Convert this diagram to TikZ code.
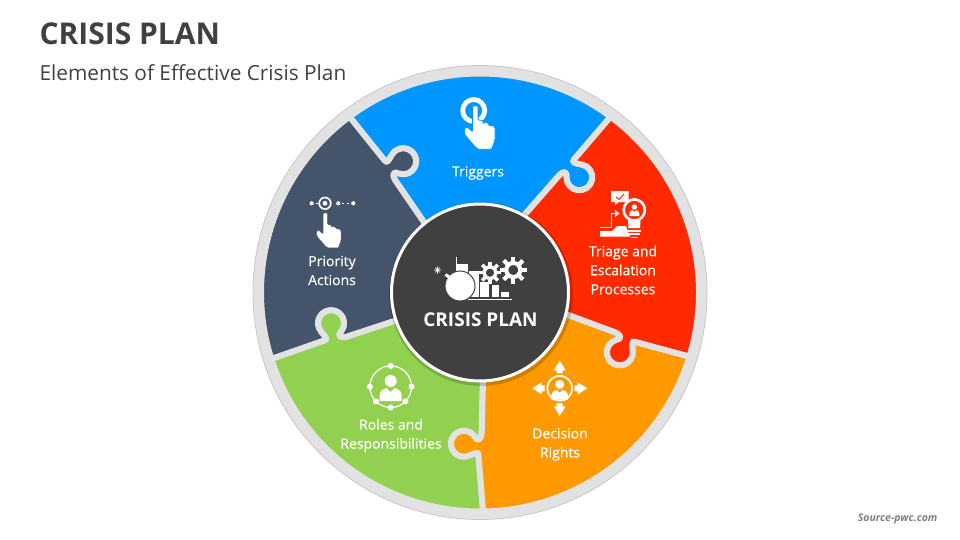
\documentclass[tikz,border=0pt]{standalone}
\usepackage{fontspec}
\setmainfont{Open Sans}
\newfontfamily\labelfont[FakeBold=0.35]{Open Sans}
\definecolor{cblue}{HTML}{0096FF}
\definecolor{cred}{HTML}{FF2A00}
\definecolor{corange}{HTML}{FF9900}
\definecolor{cgreen}{HTML}{92D050}
\definecolor{cdark}{HTML}{44546A}
\definecolor{chub}{HTML}{404040}
\definecolor{cring}{HTML}{E2E2E2}
% seam between two pieces: #1 turn of the knob, #2 angle at the hub, #3 angle at the rim
\newcommand{\seamout}[3]{
    -- (#2:87) {[rotate=#1] -- (79,117) .. controls (85,123) and (87,120) .. (86.3,115.2)
    arc[start angle=180,end angle=440,radius=13]
    .. controls (97,129) and (91,129.5) .. (94,133)} -- (#3:219)}
\newcommand{\seamback}[3]{
    {[rotate=#1] -- (94,133) .. controls (91,129.5) and (97,129) .. (101.6,128)
    arc[start angle=80,end angle=-180,radius=13]
    .. controls (87,120) and (85,123) .. (79,117)} -- (#2:87)}
% finger up, origin at the fingertip
\newcommand{\handpath}{
    (-2.8,2) -- (-2.8,25.7) -- (-8.7,20.7) -- (-11.3,23.3) -- (-10.3,29) -- (-.3,40.7)
    -- (3,43.3) -- (16.3,43.3) -- (19.7,34) -- (19.7,21.3) -- (16.8,19) -- (14,20)
    -- (13,17) -- (10,16.5) -- (8.5,17) -- (7,14.5) -- (2.8,14) -- (2.8,2)
    .. controls (2.8,-1) and (-2.8,-1) .. (-2.8,2) -- cycle}
% origin at the centre of the head
\newcommand{\personshape}{
    (0,0) circle[radius=6]
    (-11,20) -- (-11,14) .. controls (-11,10) and (-7,8) .. (-4,7) -- (0,11) -- (4,7)
    .. controls (7,8) and (11,10) .. (11,14) -- (11,20) -- cycle}
% #1 centre, #2 radius, #3 colour of the hole
\newcommand{\gearicon}[3]{
    \foreach \a in {0,45,...,315}
        \draw[shift={#1},white,line width=#2*0.32pt] (\a:#2*0.6) -- (\a:#2);
    \draw[white,fill=#3,line width=#2*0.3pt] #1 circle[radius=#2*0.52];
}
\begin{document}
\begin{tikzpicture}[
            x=1pt, y=-1pt,
            piece/.style={draw=cring, line width=6pt, line join=round},
            whitetext/.style={color=white, align=center, font=\labelfont\fontsize{14}{19}\selectfont},
            icon/.style={fill=white, draw=none},
            iconline/.style={draw=white, line width=1.5pt},
            hub/.style={circle, fill=chub, draw=white, line width=3pt, minimum size=177pt, inner sep=0pt}
            ]
            \useasboundingbox (0,0) rectangle (960,540);

            % titles
            \node[anchor=west, color=chub, font=\fontsize{30}{36}\bfseries\selectfont] (title) at (36,34) {CRISIS PLAN};
            \node[anchor=west, color=chub, font=\fontsize{20.8}{24}\selectfont] (subtitle) at (36,73) {Elements of Effective Crisis Plan};
            \node[anchor=east, color=black!50, font=\fontsize{10.5}{12}\bfseries\itshape\selectfont] (source) at (941,519) {Source-pwc.com};

            % ring and pieces
            \fill[color=cring] (480,292.5) circle[radius=227];
            \draw[color=black!22, line width=.8pt] (480,292.5) circle[radius=227];
            \begin{scope}[shift={(480,292.5)}, y=1pt]
                \path[piece, fill=cblue] (0,0) \seamout{0}{60.5}{53.4}
                    arc[start angle=53.4,end angle=126.6,radius=219] \seamback{71.1}{128.7}{126.6} -- cycle;
                \path[piece, fill=cdark] (0,0) \seamout{71.1}{128.7}{126.6}
                    arc[start angle=126.6,end angle=197.7,radius=219] \seamback{142.4}{198.5}{197.7} -- cycle;
                \path[piece, fill=cgreen] (0,0) \seamout{142.4}{198.5}{197.7}
                    arc[start angle=197.7,end angle=270.8,radius=219] \seamback{-145.3}{-88}{-89.2} -- cycle;
                \path[piece, fill=corange] (0,0) \seamout{-145.3}{-88}{-89.2}
                    arc[start angle=-89.2,end angle=-17,radius=219] \seamback{-72.4}{-14}{-17} -- cycle;
                \path[piece, fill=cred] (0,0) \seamout{-72.4}{-14}{-17}
                    arc[start angle=-17,end angle=53.4,radius=219] \seamback{0}{60.5}{53.4} -- cycle;
            \end{scope}

            % hub
            \fill[color=black, opacity=.18] (481,294) circle[radius=92];
            \node[hub] (hub) at (480,292.5) {};
            \node[color=white, font=\fontsize{19}{24}\bfseries\selectfont] (hublabel) at (480.5,320) {CRISIS PLAN};

            % labels
            \node[whitetext] (triggers) at (478,173) {Triggers};
            \node[whitetext] (triage) at (623,270) {Triage and\\Escalation\\Processes};
            \node[whitetext] (decision) at (560,444.5) {Decision\\Rights};
            \node[whitetext] (roles) at (391,435.5) {Roles and\\Responsibilities};
            \node[whitetext] (priority) at (332,270.5) {Priority\\Actions};

            % icon of the hub
            \fill[icon] (457,264) rectangle (468,290);
            \draw[iconline, line width=1pt] (456.7,257) -- (456.7,272);
            \fill[icon] (468.5,271) rectangle (478.5,297);
            \fill[icon] (480,282) rectangle (488.5,297);
            \fill[icon] (491.5,285) rectangle (499,297);
            \fill[icon] (501,292) rectangle (509,297);
            \draw[iconline, line width=1.2pt] (468,299.5) -- (512,299.5);
            \draw[draw=chub, fill=white, line width=1pt] (460,286) circle[radius=15];
            \draw[iconline, line width=3pt] (445.5,274.5) -- (449,277);
            \fill[icon] (437.5,270) circle[radius=1.8];
            \draw[iconline, line width=.6pt] (434,270) -- (441,270) (437.5,266.5) -- (437.5,273.5) (435,267.5) -- (440,272.5) (435,272.5) -- (440,267.5);
            \gearicon{(490,272.7)}{11}{chub}
            \gearicon{(513.3,270)}{13.5}{chub}

            % icon of Triggers
            \draw[draw=white, line width=4.8pt] (473.7,110.5) circle[radius=11];
            \path[icon, draw=cblue, line width=.8pt, shift={(475.3,106)}, rounded corners=1pt] \handpath;

            % icon of Triage
            \fill[icon] (611,191) -- (628.5,191) -- (628.5,202) -- (619,202) -- (615,205) -- (615,202) -- (611,202) -- cycle;
            \draw[draw=cred, line width=1pt] (616,197) -- (619,199.5) -- (624,194);
            \draw[draw=white, line width=2.6pt] (634.3,210) circle[radius=10.6];
            \fill[icon] (628,220) -- (640.5,220) -- (640,228) -- (628.5,228) -- cycle;
            \fill[icon] (628,229.5) rectangle (640.5,231.5);
            \fill[icon] (629,233) rectangle (639.5,235);
            \fill[icon] (631,236.5) rectangle (637.5,238);
            \fill[icon, shift={(634.3,207)}, scale=.45] \personshape;
            \fill[icon] (600,236.5) -- (630,236.5) -- (626,226) -- (617,226) -- (612,231) -- (600,231) -- cycle;
            \draw[iconline, line width=1pt] (600,227.3) -- (611.7,227.3) -- (611.7,213.5) -- (616,213.5);
            \fill[icon] (619.5,213.5) -- (615,210) -- (615,217) -- cycle;

            % icon of Decision
            \draw[draw=white, line width=1.8pt] (559.7,388.3) circle[radius=12.5];
            \fill[icon, shift={(559.7,384.5)}, scale=.75] \personshape;
            \foreach \ang in {0,90,180,270}
                \fill[icon, shift={(559.7,388.3)}, rotate=\ang] (27.5,0) -- (18,-6) -- (18,-3) -- (15,-3) -- (15,3) -- (18,3) -- (18,6) -- cycle;

            % icon of Roles
            \draw[draw=white, line width=1.2pt] (390.7,386.7) circle[radius=20.8];
            \foreach \ang in {0,45,90,135,180,270}
                \fill[icon, shift={(390.7,386.7)}] (\ang:20.8) circle[radius=3];
            \fill[icon, shift={(390.7,381)}] \personshape;

            % icon of Priority
            \draw[draw=white, line width=1.7pt] (325,203.3) circle[radius=5.8];
            \fill[icon] (325,203.3) circle[radius=2.4];
            \foreach \px in {311.7,338.3,353.3}
                \fill[icon] (\px,203.3) circle[radius=2.1];
            \draw[iconline, line width=1.2pt] (315.5,203.3) -- (317.5,203.3) (342,203.3) -- (344,203.3) (346.5,203.3) -- (349,203.3);
            \path[icon, draw=cdark, line width=.5pt, shift={(325.3,213.3)}, scale=.8, rounded corners=1pt] \handpath;
\end{tikzpicture}
\end{document}
